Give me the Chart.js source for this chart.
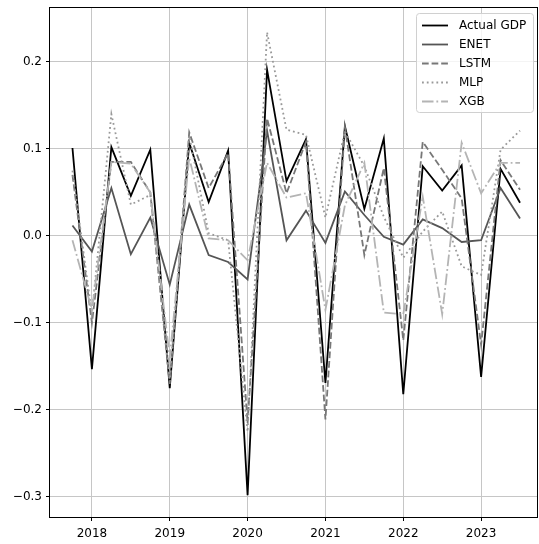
<!DOCTYPE html>
<html>
<head>
<meta charset="utf-8">
<script src="https://cdn.jsdelivr.net/npm/chart.js@4"></script>
<style>
  html, body { margin: 0; padding: 0; background: #fff; }
  #wrap { width: 539px; height: 544px; }
</style>
</head>
<body>
<div id="wrap"><canvas id="chart"></canvas></div>
<script>
const quarters = [
  "2017Q4", "2018Q1", "2018Q2", "2018Q3", "2018Q4", "2019Q1", "2019Q2", "2019Q3",
  "2019Q4", "2020Q1", "2020Q2", "2020Q3", "2020Q4", "2021Q1", "2021Q2", "2021Q3",
  "2021Q4", "2022Q1", "2022Q2", "2022Q3", "2022Q4", "2023Q1", "2023Q2", "2023Q3"
];

const actualGdp = [0.101, -0.153, 0.102, 0.046, 0.099, -0.175, 0.107, 0.039, 0.098, -0.298, 0.191, 0.063,
                   0.111, -0.169, 0.126, 0.031, 0.112, -0.182, 0.080, 0.052, 0.081, -0.162, 0.077, 0.038];
const enet = [0.012, -0.018, 0.055, -0.021, 0.021, -0.056, 0.036, -0.022, -0.030, -0.050, 0.121, -0.005,
              0.029, -0.008, 0.051, 0.024, -0.001, -0.010, 0.019, 0.009, -0.007, -0.005, 0.055, 0.020];
const lstm = [0.070, -0.100, 0.085, 0.085, 0.050, -0.170, 0.119, 0.055, 0.095, -0.215, 0.135, 0.049,
              0.108, -0.211, 0.125, -0.022, 0.078, -0.120, 0.108, 0.076, 0.043, -0.125, 0.087, 0.053];
const mlp = [0.075, -0.090, 0.140, 0.036, 0.047, -0.165, 0.115, 0.003, -0.005, -0.225, 0.234, 0.122,
             0.116, 0.021, 0.120, 0.080, 0.022, -0.025, 0.005, 0.028, -0.035, -0.045, 0.099, 0.121];
const xgb = [-0.005, -0.085, 0.085, 0.083, 0.050, -0.140, 0.090, -0.003, -0.005, -0.028, 0.084, 0.044,
             0.049, -0.085, 0.035, 0.084, -0.088, -0.090, 0.045, -0.090, 0.107, 0.049, 0.084, 0.084];

const yearTicks = [2018, 2019, 2020, 2021, 2022, 2023];
const yTicks = [-0.3, -0.2, -0.1, 0.0, 0.1, 0.2];

// "2018Q2" -> 2018.25
function quarterToX(q) {
  const year = parseInt(q.slice(0, 4));
  const n = parseInt(q.slice(5));
  return year + (n - 1) / 4;
}

function toPoints(values) {
  return values.map((v, i) => ({ x: quarterToX(quarters[i]), y: v }));
}

const FONT = { family: "'DejaVu Sans', sans-serif", size: 12 };
const LW = 1.8;

const series = [
  { label: "Actual GDP", data: actualGdp, color: "#000000", dash: [] },
  { label: "ENET", data: enet, color: "#555555", dash: [] },
  { label: "LSTM", data: lstm, color: "#777777", dash: [6.7, 2.9] },
  { label: "MLP", data: mlp, color: "#999999", dash: [1.8, 3.0] },
  { label: "XGB", data: xgb, color: "#b4b4b4", dash: [11.5, 2.9, 1.8, 2.9] },
];

// matplotlib style frame + legend box
const framePlugin = {
  id: "frame",
  afterDraw(chart) {
    const { ctx, chartArea: a } = chart;
    ctx.save();
    ctx.strokeStyle = "#000";
    ctx.lineWidth = 1;
    ctx.strokeRect(Math.round(a.left) - 0.5, Math.round(a.top) + 0.5,
                   Math.round(a.right - a.left), Math.round(a.bottom - a.top));

    // legend
    const w = 117, rowH = 19;
    const x0 = a.right - w - 5, y0 = a.top + 6;
    const h = rowH * series.length + 4;
    ctx.fillStyle = "rgba(255,255,255,0.8)";
    ctx.strokeStyle = "#d0d0d0";
    ctx.beginPath();
    ctx.roundRect(Math.round(x0) + 0.5, Math.round(y0) + 0.5, w, h, 3);
    ctx.fill();
    ctx.stroke();
    ctx.font = FONT.size + "px " + FONT.family;
    ctx.textBaseline = "middle";
    series.forEach((s, i) => {
      const cy = y0 + 12.5 + i * rowH;
      ctx.strokeStyle = s.color;
      ctx.lineWidth = LW;
      ctx.setLineDash(s.dash);
      ctx.beginPath();
      ctx.moveTo(x0 + 6, cy);
      ctx.lineTo(x0 + 32, cy);
      ctx.stroke();
      ctx.setLineDash([]);
      ctx.fillStyle = "#000";
      ctx.fillText(s.label, x0 + 43, cy);
    });
    ctx.restore();
  }
};

document.addEventListener("DOMContentLoaded", function() {
  const ctx = document.getElementById("chart");

  new Chart(ctx, {
    type: "line",
    data: {
      datasets: series.map((s, i) => ({
        label: s.label,
        data: toPoints(s.data),
        borderColor: s.color,
        backgroundColor: s.color,
        borderWidth: LW,
        borderDash: s.dash,
        pointRadius: 0,
        tension: 0,
        fill: false,
        order: series.length - i,
      })),
    },
    options: {
      responsive: true,
      maintainAspectRatio: false,
      animation: false,
      layout: { padding: { top: 7, right: 1, left: 0, bottom: 0 } },
      plugins: {
        legend: { display: false },
        tooltip: { enabled: false },
      },
      scales: {
        x: {
          type: "linear",
          min: 2017.4615,
          max: 2023.7308,
          afterBuildTicks: (s) => { s.ticks = yearTicks.map(v => ({ value: v })); },
          afterFit: (s) => { s.height = 27; s.paddingLeft = 0; s.paddingRight = 0; },
          ticks: {
            font: FONT,
            color: "#000",
            padding: 6,
            maxRotation: 0,
            callback: (v) => String(v),
          },
          grid: { color: "#c6c6c6", lineWidth: 1, tickColor: "#000", tickLength: 4 },
          border: { display: false },
        },
        y: {
          min: -0.323,
          max: 0.263,
          afterBuildTicks: (s) => { s.ticks = yTicks.map(v => ({ value: v })); },
          afterFit: (s) => { s.width = 50; s.paddingTop = 0; s.paddingBottom = 0; },
          ticks: {
            font: FONT,
            color: "#000",
            padding: 4,
            callback: (v) => v.toFixed(1).replace("-", "\u2212"),
          },
          grid: { color: "#c6c6c6", lineWidth: 1, tickColor: "#000", tickLength: 4 },
          border: { display: false },
        },
      },
    },
    plugins: [framePlugin],
  });
});
</script>
</body>
</html>
